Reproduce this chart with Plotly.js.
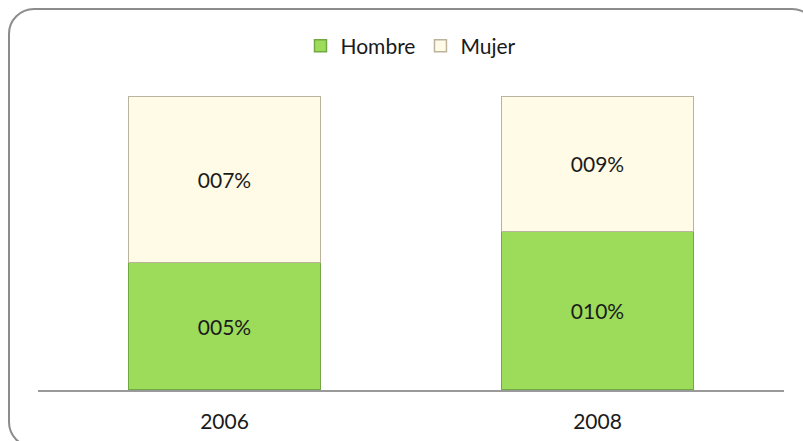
<!DOCTYPE html>
<html>
<head>
<meta charset="utf-8">
<script src="https://cdn.plot.ly/plotly-3.0.1.min.js"></script>
<style>
  html, body { margin:0; padding:0; width:803px; height:441px; overflow:hidden; background:#fff; }
  #frame { position:absolute; left:8px; top:8px; width:806px; height:436px; border:2px solid #8c8c8c; border-radius:26px; }
  #chart { position:absolute; left:0; top:0; width:803px; height:441px; }
</style>
</head>
<body>
<div id="frame"></div>
<div id="chart"></div>
<script>
const years = ['2006', '2008'];
const hombre = [0.053, 0.102];
const mujer = [0.069, 0.087];

function fmt(v) { return String(Math.round(v * 100)).padStart(3, '0') + '%'; }

const font = { family: 'Lato, "Open Sans", sans-serif', size: 21, color: '#1a1a1a' };

const traces = [
  {
    type: 'bar', name: 'Hombre', x: years, y: hombre,
    text: hombre.map(fmt), textposition: 'inside', insidetextanchor: 'middle',
    textfont: font, hoverinfo: 'none',
    marker: { color: '#9ddc5b', line: { color: '#72a843', width: 1.5 } }
  },
  {
    type: 'bar', name: 'Mujer', x: years, y: mujer,
    text: mujer.map(fmt), textposition: 'inside', insidetextanchor: 'middle',
    textfont: font, hoverinfo: 'none',
    marker: { color: '#fffbe6', line: { color: '#bcb39c', width: 1.5 } }
  }
];

const layout = {
  width: 803, height: 441,
  margin: { l: 38, r: 19, t: 96, b: 51 },
  paper_bgcolor: 'rgba(0,0,0,0)', plot_bgcolor: 'rgba(0,0,0,0)',
  barmode: 'stack', barnorm: 'fraction', bargap: 0.485,
  font: font,
  showlegend: true,
  legend: { orientation: 'h', x: 0.5, xanchor: 'center', y: 1.17, yanchor: 'middle', font: font, traceorder: 'normal' },
  xaxis: { type: 'category', showline: true, linecolor: '#9a9a9a', linewidth: 2, showgrid: false, zeroline: false,
           ticks: 'outside', ticklen: 12, tickcolor: 'rgba(0,0,0,0)', tickfont: font },
  yaxis: { range: [0, 1], visible: false, showgrid: false, zeroline: false, fixedrange: true }
};

Plotly.newPlot('chart', traces, layout, { displayModeBar: false, staticPlot: true });
</script>
</body>
</html>
